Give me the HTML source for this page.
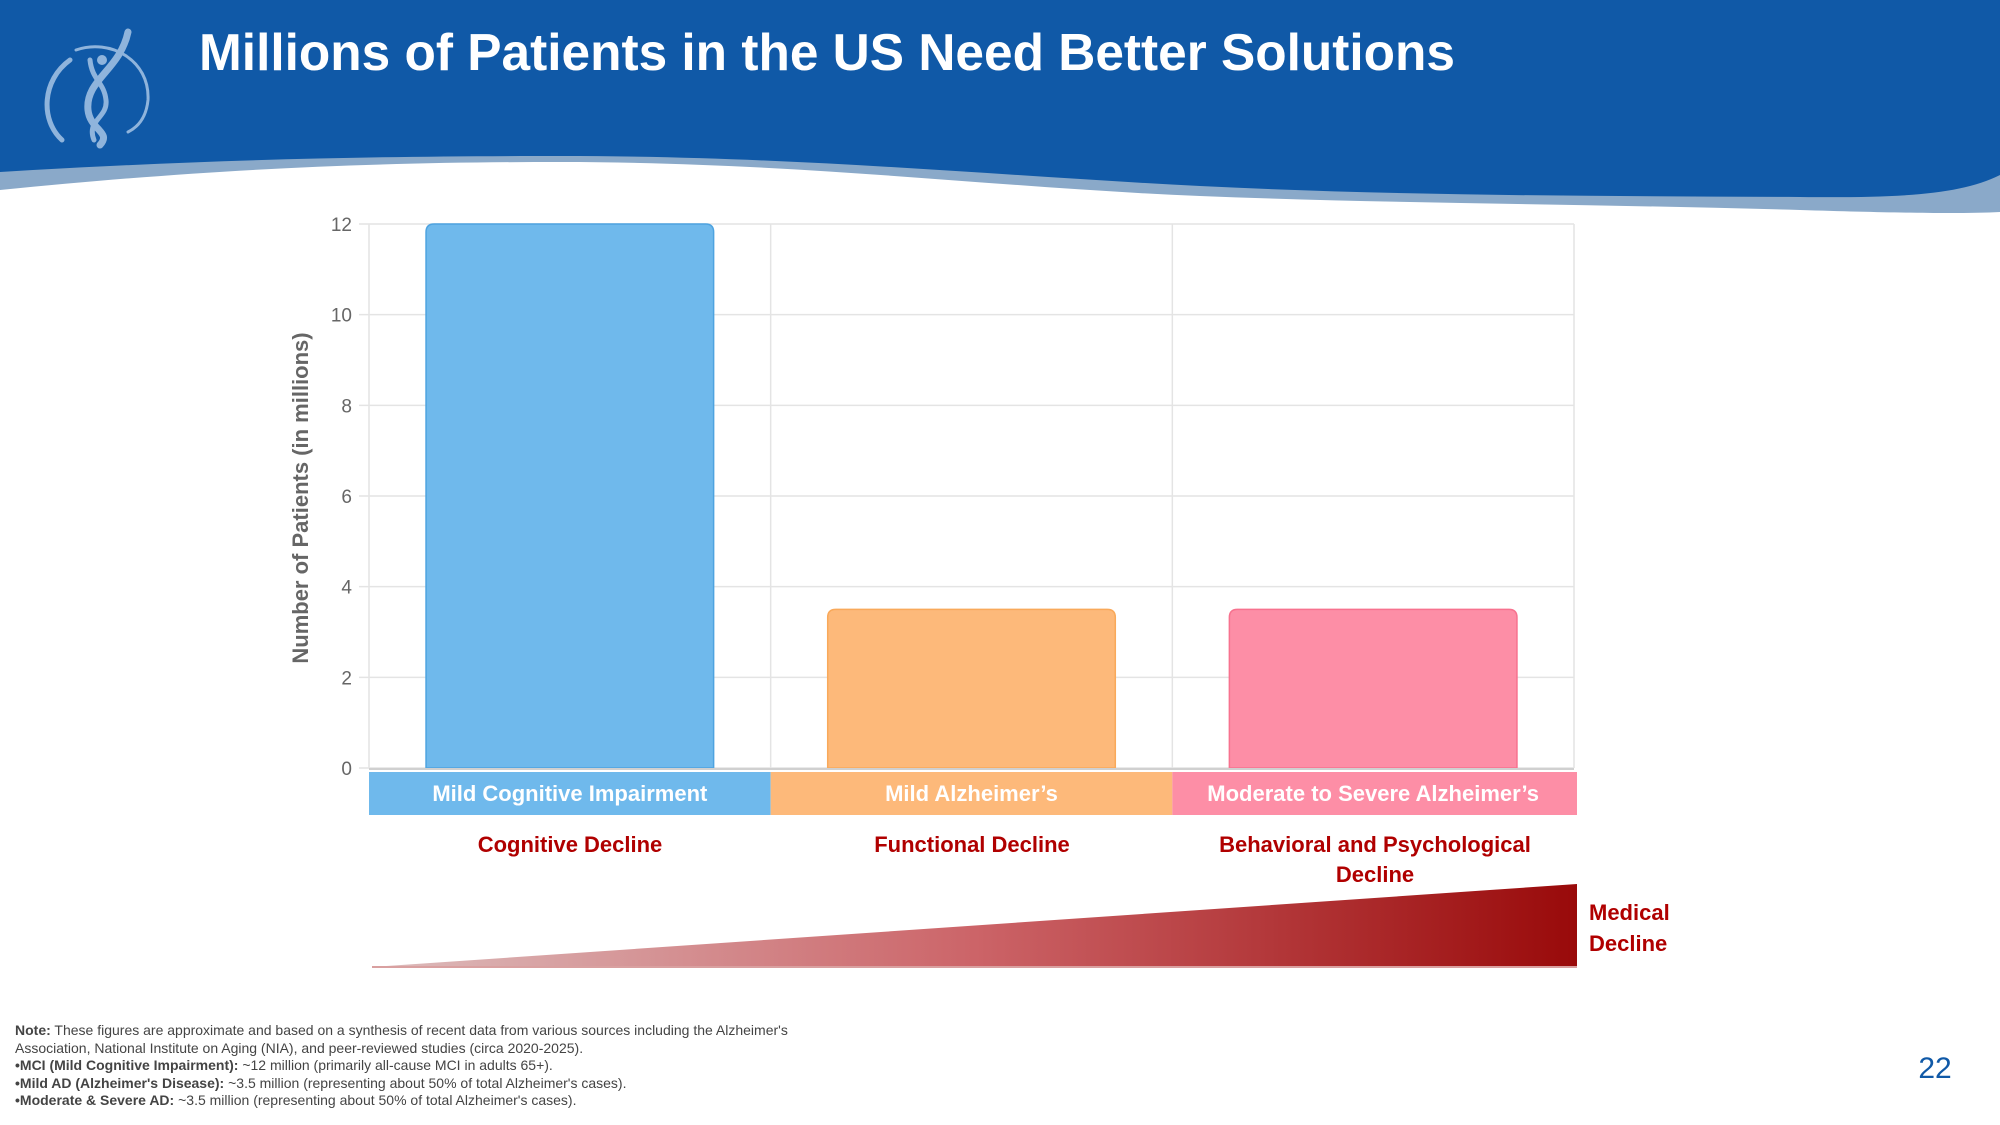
<!DOCTYPE html>
<html><head><meta charset="utf-8"><style>
html,body{margin:0;padding:0;background:#fff;}
body{width:2000px;height:1125px;overflow:hidden;position:relative;font-family:"Liberation Sans",sans-serif;}
svg{position:absolute;left:0;top:0;}
</style></head><body>
<svg width="2000" height="1125" viewBox="0 0 2000 1125">
<defs>
<linearGradient id="wedge" x1="0" x2="1" y1="0" y2="0">
<stop offset="0" stop-color="#dcbcbc"/><stop offset="0.5" stop-color="#cc6468"/><stop offset="1" stop-color="#990a0a"/>
</linearGradient>
</defs>
<g>
<path d="M0 0H2000V212C1960 214 1900 213 1800 210 1600 204 1400 204 1200 196 1000 188 800 162 560 162 360 162 200 170 0 190Z" fill="#8aa9c9"/>
<path d="M0 0H2000V175C1960 195 1900 198 1800 197 1600 196 1400 196 1200 186 1000 176 800 156 560 156 360 156 200 160 0 172Z" fill="#1059a7"/>
<g fill="none" stroke="#8fb4dc" stroke-linecap="round">
<path d="M70 60C42 80 40 120 62 140" stroke-width="5"/>
<path d="M76 50C110 38 150 60 148 100C146 120 136 128 128 132" stroke-width="3"/>
<path d="M128 32C120 70 85 80 88 110C90 130 112 132 100 145" stroke-width="7"/>
<path d="M90 60C92 80 104 82 106 100C108 118 86 120 94 140" stroke-width="5"/>
<circle cx="102" cy="60" r="5" fill="#8fb4dc" stroke="none"/>
</g>
<text x="199" y="70" fill="#fff" font-size="52" font-weight="bold" textLength="1256" lengthAdjust="spacingAndGlyphs">Millions of Patients in the US Need Better Solutions</text>
</g>
<g id="chart"></g>
<g fill="#b00000" font-size="22" font-weight="bold" text-anchor="middle">
<text x="570" y="852">Cognitive Decline</text>
<text x="972" y="852">Functional Decline</text>
<text x="1375" y="852">Behavioral and Psychological</text>
<text x="1375" y="882">Decline</text>
</g>
<path d="M372 967L1577 884V967Z" fill="url(#wedge)"/>
<line x1="372" y1="967" x2="1577" y2="967" stroke="#d9a0a0" stroke-width="2"/>
<g fill="#b00000" font-size="22" font-weight="bold">
<text x="1589" y="920">Medical</text><text x="1589" y="951">Decline</text>
</g>
<g fill="#444" font-size="14">
<text x="15" y="1035"><tspan font-weight="bold">Note:</tspan> These figures are approximate and based on a synthesis of recent data from various sources including the Alzheimer's</text>
<text x="15" y="1053">Association, National Institute on Aging (NIA), and peer-reviewed studies (circa 2020-2025).</text>
<text x="15" y="1070"><tspan font-weight="bold">•MCI (Mild Cognitive Impairment):</tspan> ~12 million (primarily all-cause MCI in adults 65+).</text>
<text x="15" y="1088"><tspan font-weight="bold">•Mild AD (Alzheimer's Disease):</tspan> ~3.5 million (representing about 50% of total Alzheimer's cases).</text>
<text x="15" y="1105"><tspan font-weight="bold">•Moderate &amp; Severe AD:</tspan> ~3.5 million (representing about 50% of total Alzheimer's cases).</text>
</g>
<text x="1935" y="1078" fill="#1059a7" font-size="30" text-anchor="middle">22</text>
</svg>
<script>
const categories = ["Mild Cognitive Impairment", "Mild Alzheimer\u2019s", "Moderate to Severe Alzheimer\u2019s"];
const values = [12, 3.5, 3.5];
const yTicks = [0, 2, 4, 6, 8, 10, 12];
const fills = ["#6fb9ec", "#fdb97a", "#fd8ea6"];
const strokes = ["#4ea3e0", "#f9a95a", "#f7728f"];
const NS = "http://www.w3.org/2000/svg";
const g = document.getElementById("chart");
const L = 369, R = 1574, B = 768, T = 224, yMax = 12;
const y = v => B - (v / yMax) * (B - T);
const band = (R - L) / categories.length;
const x = i => L + i * band;
function mk(tag, attrs, parent) { const e = document.createElementNS(NS, tag); for (const k in attrs) e.setAttribute(k, attrs[k]); (parent || g).appendChild(e); return e; }
yTicks.forEach(t => {
  const ln = mk("line", {x1: L - 10, x2: R, y1: y(t), y2: y(t), stroke: "#e4e4e4", "stroke-width": 1.5});
  
  
  const tx = mk("text", {x: L - 17, y: y(t) + 7, "text-anchor": "end", "font-size": 19, fill: "#666"});
  tx.textContent = t;
  
  
});
for (let i = 0; i <= categories.length; i++) {
  const ln = mk("line", {x1: x(i), x2: x(i), y1: T, y2: B, stroke: "#e4e4e4", "stroke-width": 1.5});
  
  
}
categories.forEach((c, i) => {
  const bw = band * 0.716, bx = x(i) + (band - bw) / 2, top = y(values[i]), r = 8;
  const p = mk("path", {d: `M${bx} ${B}V${top + r}Q${bx} ${top} ${bx + r} ${top}H${bx + bw - r}Q${bx + bw} ${top} ${bx + bw} ${top + r}V${B}Z`, fill: fills[i], stroke: strokes[i], "stroke-width": 1.5});
  
  
  const rc = mk("rect", {x: x(i), y: 772, width: band + (i === 2 ? 3 : 0), height: 43, fill: fills[i]});
  
  
  const tx = mk("text", {x: x(i) + band / 2, y: 801, "text-anchor": "middle", "font-size": 22, "font-weight": "bold", fill: "#fff"});
  tx.textContent = c;
  
  
});
const ax = mk("line", {x1: L, x2: R, y1: B + 1, y2: B + 1, stroke: "#d0d0d0", "stroke-width": 2});


const yt = mk("text", {x: 0, y: 0, transform: "translate(308 498) rotate(-90)", "text-anchor": "middle", "font-size": 22, "font-weight": "bold", fill: "#666"});
yt.textContent = "Number of Patients (in millions)";


</script>
</body></html>
